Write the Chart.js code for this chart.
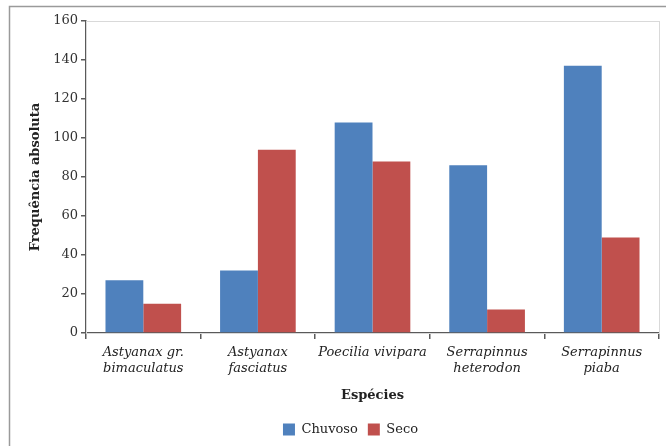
<!DOCTYPE html>
<html>
<head>
<meta charset="utf-8">
<script src="https://cdn.jsdelivr.net/npm/chart.js@4/dist/chart.umd.min.js"></script>
<style>
  html, body { margin: 0; padding: 0; background: #fff; }
  #wrap { width: 666px; height: 446px; }
</style>
</head>
<body>
<div id="wrap"><canvas id="chart" width="666" height="446"></canvas></div>
<script>
// espécies (duas linhas por rótulo)
const especies = [
  ["Astyanax gr.", "bimaculatus"],
  ["Astyanax", "fasciatus"],
  ["Poecilia vivipara"],
  ["Serrapinnus", "heterodon"],
  ["Serrapinnus", "piaba"]
];
const chuvoso = [27, 32, 108, 86, 137];
const seco = [15, 94, 88, 12, 49];
const yTicks = [0, 20, 40, 60, 80, 100, 120, 140, 160];

const serif = "'DejaVu Serif', 'Liberation Serif', serif";
const axisGray = '#5a5a5a';

// moldura externa + borda clara da área do gráfico; legenda deslocada
const frames = {
  id: 'frames',
  afterLayout(chart) {
    const lg = chart.legend;
    if (lg) { lg.left += 9; lg.right += 9; }
  },
  beforeDatasetsDraw(chart) {
    const { ctx, chartArea: a } = chart;
    ctx.save();
    ctx.strokeStyle = '#d9d9d9';
    ctx.lineWidth = 1;
    ctx.strokeRect(Math.round(a.left) + 0.5, Math.round(a.top) + 0.5,
      Math.round(a.right - a.left), Math.round(a.bottom - a.top));
    ctx.restore();
  },
  afterDraw(chart) {
    const ctx = chart.ctx;
    ctx.save();
    ctx.strokeStyle = '#9a9a9a';
    ctx.lineWidth = 1.5;
    ctx.beginPath();
    ctx.moveTo(9.5, 460);
    ctx.lineTo(9.5, 6.5);
    ctx.lineTo(680, 6.5);
    ctx.stroke();
    ctx.restore();
  }
};

new Chart(document.getElementById('chart').getContext('2d'), {
  type: 'bar',
  data: {
    labels: especies,
    datasets: [
      { label: 'Chuvoso', data: chuvoso, backgroundColor: '#4F81BD' },
      { label: 'Seco', data: seco, backgroundColor: '#C0504D' }
    ]
  },
  options: {
    responsive: false,
    animation: false,
    layout: { padding: { left: 24, top: 21, right: 7, bottom: 0 } },
    datasets: { bar: { categoryPercentage: 0.66, barPercentage: 1.0 } },
    plugins: {
      legend: {
        position: 'bottom',
        labels: {
          font: { family: serif, size: 13 },
          color: '#222',
          boxWidth: 12,
          boxHeight: 12,
          padding: 10
        }
      },
      tooltip: { enabled: false }
    },
    scales: {
      x: {
        afterFit: s => { s.height = 80; },
        grid: { drawOnChartArea: false, tickLength: 6, color: axisGray, lineWidth: 1.5, offset: true },
        border: { color: axisGray, width: 1.5 },
        ticks: {
          font: { family: serif, size: 13, style: 'italic', lineHeight: 1.25 },
          color: '#222',
          maxRotation: 0,
          autoSkip: false,
          padding: 5
        },
        title: {
          display: true,
          text: 'Espécies',
          font: { family: serif, size: 13, weight: 'bold' },
          color: '#222',
          padding: { top: 4, bottom: 10 }
        }
      },
      y: {
        min: 0,
        max: 160,
        afterFit: s => { s.width = 62; },
        afterBuildTicks: s => { s.ticks = yTicks.map(v => ({ value: v })); },
        grid: { drawOnChartArea: false, tickLength: 5, color: axisGray, lineWidth: 1.5 },
        border: { color: axisGray, width: 1.5 },
        ticks: {
          font: { family: serif, size: 13 },
          color: '#333',
          padding: 3
        },
        title: {
          display: true,
          text: 'Frequência absoluta',
          font: { family: serif, size: 13, weight: 'bold' },
          color: '#222',
          padding: { top: 4, bottom: 4 }
        }
      }
    }
  },
  plugins: [frames]
});
</script>
</body>
</html>
